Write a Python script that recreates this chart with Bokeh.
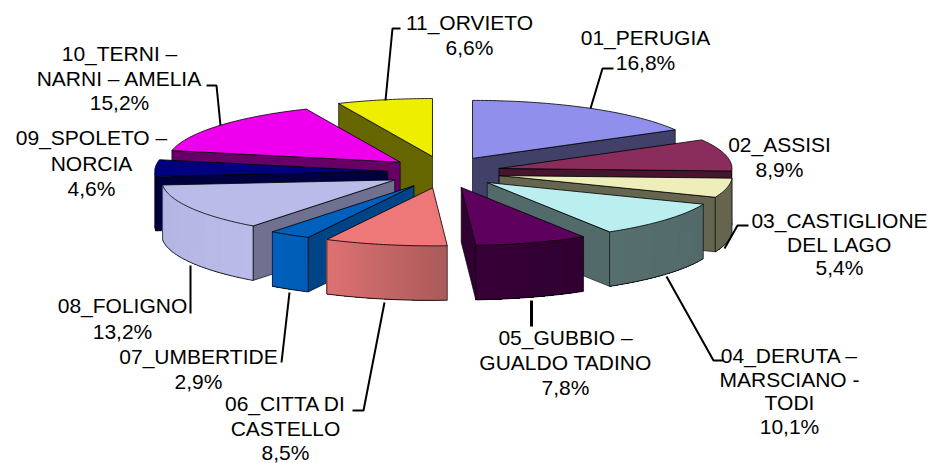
import math
from bokeh.plotting import figure
from bokeh.models import Range1d, ColumnDataSource
from bokeh.core.properties import value
from bokeh.embed import file_html
from bokeh.resources import INLINE

# ---- data -------------------------------------------------------------
names = ["01_PERUGIA", "02_ASSISI", "03_CASTIGLIONE", "04_DERUTA", "05_GUBBIO", "06_CITTA DI CASTELLO",
         "07_UMBERTIDE", "08_FOLIGNO", "09_SPOLETO", "10_TERNI", "11_ORVIETO"]
shares = [16.8, 8.9, 5.4, 10.1, 7.8, 8.5, 2.9, 13.2, 4.6, 15.2, 6.6]
top_colors = ["#9090EC", "#8B2D5C", "#EEEEBB", "#BBEEEE", "#5E005E", "#EE7777",
              "#0060BD", "#BBBBE9", "#000080", "#EE00EE", "#EEEE00"]
wall_colors = ["#404068", "#45162E", "#666650", "#526A6A", "#300030", "#AA5A5A",
               "#004488", "#707090", "#000040", "#660066", "#666600"]
rim_from = ["#404068", "#45162E", "#666650", "#526A6A", "#300030", "#AA5A5A",
            "#005CB4", "#BBBBE9", "#000048", "#660066", "#666600"]
rim_to = ["#404068", "#45162E", "#666650", "#566E6E", "#380038", "#DF7272",
          "#0060BD", "#B4B4E4", "#000040", "#660066", "#666600"]
label_lines = [
    ["01_PERUGIA", "16,8%"],
    ["02_ASSISI", "8,9%"],
    ["03_CASTIGLIONE", "DEL LAGO", "5,4%"],
    ["04_DERUTA \u2013", "MARSCIANO -", "TODI", "10,1%"],
    ["05_GUBBIO \u2013", "GUALDO TADINO", "7,8%"],
    ["06_CITTA DI", "CASTELLO", "8,5%"],
    ["07_UMBERTIDE", "2,9%"],
    ["08_FOLIGNO", "13,2%"],
    ["09_SPOLETO \u2013", "NORCIA", "4,6%"],
    ["10_TERNI \u2013", "NARNI \u2013 AMELIA", "15,2%"],
    ["11_ORVIETO", "6,6%"],
]

# ---- layout (page pixels) ----------------------------------------------
CX, CY = 443.6, 171.7      # pie centre
EX, EY = 56.4, 16.0        # explosion
RX, RY = 233.0, 58.0       # ellipse radii
DEPTH = 54.5
label_centres = [(645, 37), (779, 144), (839, 220), (789, 355), (565, 337), (285, 403),
                 (198, 356), (122, 305), (91, 137), (119, 53), (469, 22)]
line_steps = [24.5, 24.5, 23.7, 23.7, 25.2, 24.5, 24.5, 25.5, 25.5, 24.5, 25]
leaders = [
    ([(590, 108), (602, 68), (613, 68)], 2.0),
    ([(724, 248), (737, 225), (748, 225)], 2.0),
    ([(666, 276), (713, 360), (723, 360)], 2.0),
    ([(531, 300), (531, 326)], 3.0),
    ([(384, 302), (363, 410), (352, 410)], 2.0),
    ([(289, 292), (281, 362)], 2.0),
    ([(190, 265), (190, 313)], 2.0),
    ([(220, 125), (216, 85), (206, 85)], 2.0),
    ([(385, 100), (392, 28), (400, 28)], 2.0),
]
paint_order = [10, 0, 9, 1, 8, 2, 7, 3, 6, 4, 5]
FONT = "Liberation Sans"
FONT_SIZE = "21px"


def mix(c1, c2, t):
    a = [int(c1[i:i + 2], 16) for i in (1, 3, 5)]
    b = [int(c2[i:i + 2], 16) for i in (1, 3, 5)]
    return "#%02x%02x%02x" % tuple(round(u + (v - u) * t) for u, v in zip(a, b))


p = figure(width=932, height=463, output_backend="svg", toolbar_location=None,
           x_range=Range1d(0, 932), y_range=Range1d(463, 0),
           x_axis_type=None, y_axis_type=None, min_border=0, outline_line_color=None)
p.grid.visible = False

bounds = [0.0]
for s in shares:
    bounds.append(bounds[-1] + s)
total = bounds[-1]

for i in paint_order:
    a = bounds[i] / total * 2 * math.pi
    b = bounds[i + 1] / total * 2 * math.pi
    m = (a + b) / 2
    ax = CX + EX * math.sin(m)
    ay = CY - EY * math.cos(m)

    def rim(t, drop=0.0):
        return ax + RX * math.sin(t), ay - RY * math.cos(t) + drop

    # radial walls
    for edge, visible in ((a, math.sin(a) < -1e-6), (b, math.sin(b) > 1e-6)):
        if visible:
            ex, ey = rim(edge)
            p.patch([ax, ex, ex, ax], [ay, ey, ey + DEPTH, ay + DEPTH],
                    fill_color=wall_colors[i], line_color="#000000", line_width=0.8, line_alpha=0.8)

    # curved outer wall, only its front part: each strip runs on to the far
    # end of the wall, so the next strip paints over it and no seam shows
    lo = max(a, math.pi / 2)
    hi = min(b, 3 * math.pi / 2)
    if hi > lo:
        n = max(2, int((hi - lo) * RX / 3))
        steps = [lo + (hi - lo) * k / n for k in range(n + 1)]
        for k in range(n):
            part = steps[k:]
            xs = [rim(t)[0] for t in part] + [rim(t)[0] for t in reversed(part)]
            ys = [rim(t)[1] for t in part] + [rim(t, DEPTH)[1] for t in reversed(part)]
            p.patch(xs, ys, fill_color=mix(rim_from[i], rim_to[i], (k + 0.5) / n), line_color=None)
        bx = [rim(t)[0] for t in steps]
        by = [rim(t, DEPTH)[1] for t in steps]
        p.line(bx, by, line_color="#000000", line_width=1.0, line_alpha=0.85)
        for t in (lo, hi):
            if t == a or t == b:
                x0, y0 = rim(t)
                p.line([x0, x0], [y0, y0 + DEPTH], line_color="#000000", line_width=0.8, line_alpha=0.8)

    # top face
    n = max(4, int((b - a) * RX / 4))
    steps = [a + (b - a) * k / n for k in range(n + 1)]
    tx = [ax] + [rim(t)[0] for t in steps]
    ty = [ay] + [rim(t)[1] for t in steps]
    p.patch(tx, ty, fill_color=top_colors[i], line_color="#000000", line_width=0.9, line_alpha=0.9)

# leader lines
for path, width in leaders:
    p.line([q[0] for q in path], [q[1] for q in path], line_color="#000000", line_width=width)

# labels
tx, ty, tt = [], [], []
for lines, (lx, ly), step in zip(label_lines, label_centres, line_steps):
    for j, line in enumerate(lines):
        tx.append(lx)
        ty.append(ly + j * step)
        tt.append(line)
p.text(x="x", y="y", text="t", source=ColumnDataSource(dict(x=tx, y=ty, t=tt)),
       text_font=value(FONT), text_font_size=value(FONT_SIZE), text_color="#000000",
       text_align="center", text_baseline="middle")

open("out.html", "w").write(file_html(p, INLINE))
